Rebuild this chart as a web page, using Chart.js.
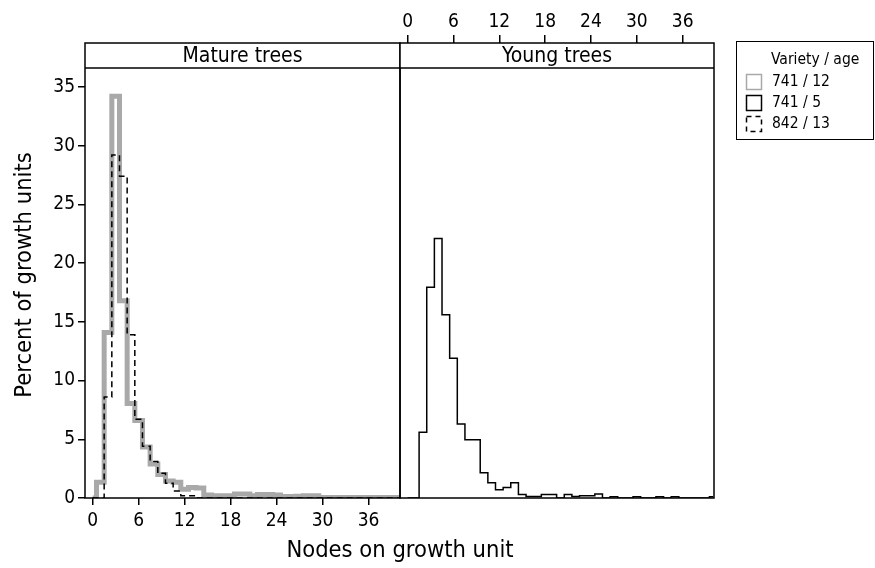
<!DOCTYPE html>
<html>
<head>
<meta charset="utf-8">
<title>Nodes on growth unit</title>
<script src="https://cdn.jsdelivr.net/npm/chart.js@4.4.1/dist/chart.umd.min.js"></script>
<style>
  html, body { margin: 0; padding: 0; background: #fff; }
  #wrap { position: relative; width: 875px; height: 568px; }
  #wrap canvas { position: absolute; left: 0; top: 0; }
</style>
</head>
<body>
<div id="wrap">
  <canvas id="mature" width="875" height="568"></canvas>
  <canvas id="young" width="875" height="568"></canvas>
</div>
<script>
// Number of nodes on a growth unit (histogram classes)
const nodes = [0,1,2,3,4,5,6,7,8,9,10,11,12,13,14,15,16,17,18,19,20,
               21,22,23,24,25,26,27,28,29,30,31,32,33,34,35,36,37,38,39,40];

// Percent of growth units per class, variety / age
const mature741_12 = [0,1.35,14.1,34.2,16.8,8.05,6.6,4.35,2.9,2.0,1.45,1.35,0.75,0.9,0.85,
                      0.25,0.2,0.2,0.2,0.35,0.35,0.2,0.3,0.3,0.25,0.12,0.12,0.15,0.2,0.2,
                      0.05,0.05,0.05,0.05,0.05,0.05,0.05,0.05,0.05,0.05,0.05];
const mature842_13 = [0,0,8.6,29.2,27.4,13.9,6.7,4.4,3.1,2.1,1.25,0.6,0.2,0.2,0,
                      0,0,0,0,0,0,0,0,0,0,0,0,0,0,0,
                      0,0,0,0,0,0,0,0,0,0,0];
const young741_5   = [0,0,5.6,17.95,22.1,15.6,11.9,6.3,4.95,4.95,2.15,1.3,0.7,0.9,1.3,
                      0.3,0.13,0.13,0.3,0.3,0,0.3,0.12,0.2,0.2,0.35,0,0.1,0,0,
                      0.1,0,0,0.1,0,0.1,0,0,0,0,0.1];

const xTicks = [0,6,12,18,24,30,36];
const yTicks = [0,5,10,15,20,25,30,35];
const panelTitles = ['Mature trees', 'Young trees'];
const xTitle = 'Nodes on growth unit';
const yTitle = 'Percent of growth units';
const legendTitle = 'Variety / age';
const legendLabels = ['741 / 12', '741 / 5', '842 / 13'];

const FONT = "'DejaVu Sans Condensed', 'DejaVu Sans', sans-serif";
Chart.defaults.font.family = FONT;
Chart.defaults.color = '#000';

const GREY = '#a9a9a9';
const STRIP_H = 25;
const X_MIN = -1, X_MAX = 40.1;
const Y_MIN = 0, Y_MAX = 38.74;

const toXY = (vals) => nodes.map((n, i) => ({ x: n, y: vals[i] }));

function stepSet(vals, color, width, dash) {
  return {
    data: toXY(vals),
    borderColor: color,
    borderWidth: width,
    borderDash: dash || [],
    stepped: 'middle',
    pointRadius: 0,
    fill: false,
    borderJoinStyle: 'miter',
    borderCapStyle: 'butt'
  };
}

const tickGrid = (len) => ({
  drawOnChartArea: false, drawTicks: true, tickLength: len,
  color: '#000', lineWidth: 1.5
});

// Panel frame with its strip label on top
function panelPlugin(label) {
  return {
    id: 'panelFrame',
    afterDraw(chart) {
      const { ctx, chartArea: a } = chart;
      ctx.save();
      ctx.fillStyle = '#fff';
      ctx.fillRect(a.left, a.top, a.right - a.left, STRIP_H);
      ctx.strokeStyle = '#000';
      ctx.lineWidth = 1.5;
      ctx.strokeRect(a.left, a.top, a.right - a.left, a.bottom - a.top);
      ctx.beginPath();
      ctx.moveTo(a.left, a.top + STRIP_H);
      ctx.lineTo(a.right, a.top + STRIP_H);
      ctx.stroke();
      ctx.fillStyle = '#000';
      ctx.font = '21px ' + FONT;
      ctx.textAlign = 'center';
      ctx.textBaseline = 'middle';
      ctx.fillText(label, (a.left + a.right) / 2, a.top + STRIP_H / 2 + 1);
      ctx.restore();
    }
  };
}

// Shared axis titles: x centred under both panels, y beside the data area
const axisTitlePlugin = {
  id: 'sharedTitles',
  afterDraw(chart) {
    const ctx = chart.ctx;
    ctx.save();
    ctx.fillStyle = '#000';
    ctx.font = '23.5px ' + FONT;
    ctx.textAlign = 'center';
    ctx.textBaseline = 'middle';
    ctx.fillText(xTitle, 400, 551);
    ctx.translate(25, 275);
    ctx.rotate(-Math.PI / 2);
    ctx.fillText(yTitle, 0, 0);
    ctx.restore();
  }
};

// Key box to the right of the panels
const keyPlugin = {
  id: 'keyBox',
  afterDraw(chart) {
    const ctx = chart.ctx;
    ctx.save();
    ctx.strokeStyle = '#000';
    ctx.lineWidth = 1;
    ctx.strokeRect(736.5, 41.5, 137, 98);
    ctx.fillStyle = '#000';
    ctx.font = '15.5px ' + FONT;
    ctx.textBaseline = 'middle';
    ctx.textAlign = 'left';
    ctx.fillText(legendTitle, 771, 60);
    const rows = [
      { y: 82, color: GREY, dash: [] },
      { y: 103, color: '#000', dash: [] },
      { y: 124, color: '#000', dash: [5, 4] }
    ];
    rows.forEach((r, i) => {
      ctx.save();
      ctx.strokeStyle = r.color;
      ctx.lineWidth = 1.5;
      ctx.setLineDash(r.dash);
      ctx.strokeRect(746.5, r.y - 7.5, 15, 15);
      ctx.restore();
      ctx.fillText(legendLabels[i], 772, r.y);
    });
    ctx.restore();
  }
};

new Chart(document.getElementById('mature'), {
  type: 'line',
  data: {
    datasets: [
      stepSet(mature842_13, '#000', 1.5, [6, 4]),
      stepSet(mature741_12, GREY, 5)
    ]
  },
  options: {
    responsive: false,
    devicePixelRatio: 1,
    animation: false,
    layout: { padding: { left: 0, top: 43, right: 475, bottom: 0 } },
    plugins: { legend: { display: false }, tooltip: { enabled: false } },
    scales: {
      x: {
        type: 'linear', position: 'bottom', min: X_MIN, max: X_MAX,
        afterBuildTicks: (s) => { s.ticks = xTicks.map(v => ({ value: v })); },
        afterFit: (s) => { s.height = 70; },
        grid: tickGrid(7),
        border: { display: false },
        ticks: { font: { size: 19 }, padding: 5, maxRotation: 0, color: '#000' }
      },
      y: {
        type: 'linear', min: Y_MIN, max: Y_MAX,
        afterBuildTicks: (s) => { s.ticks = yTicks.map(v => ({ value: v })); },
        afterFit: (s) => { s.width = 85; },
        grid: tickGrid(7),
        border: { display: false },
        ticks: { font: { size: 19 }, padding: 3, color: '#000' }
      }
    }
  },
  plugins: [panelPlugin(panelTitles[0]), axisTitlePlugin]
});

new Chart(document.getElementById('young'), {
  type: 'line',
  data: {
    datasets: [ stepSet(young741_5, '#000', 1.5) ]
  },
  options: {
    responsive: false,
    devicePixelRatio: 1,
    animation: false,
    layout: { padding: { left: 400, top: 0, right: 161, bottom: 70 } },
    plugins: { legend: { display: false }, tooltip: { enabled: false } },
    scales: {
      x: {
        type: 'linear', position: 'top', min: X_MIN, max: X_MAX,
        afterBuildTicks: (s) => { s.ticks = xTicks.map(v => ({ value: v })); },
        afterFit: (s) => { s.height = 43; },
        grid: tickGrid(8),
        border: { display: false },
        ticks: { font: { size: 19 }, padding: 2, maxRotation: 0, color: '#000' }
      },
      y: { type: 'linear', display: false, min: Y_MIN, max: Y_MAX }
    }
  },
  plugins: [panelPlugin(panelTitles[1]), keyPlugin]
});
</script>
</body>
</html>
